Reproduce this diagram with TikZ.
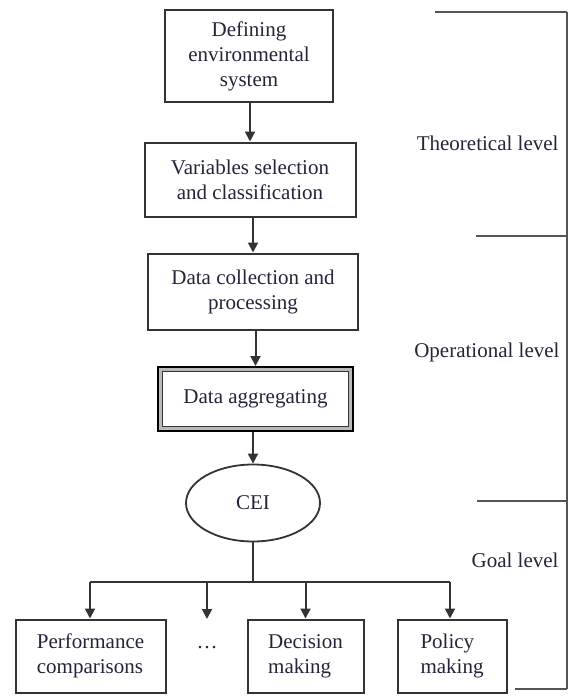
\documentclass[tikz,border=0pt]{standalone}
\usepackage{fontspec}
\setmainfont{Liberation Serif}
\usetikzlibrary{arrows.meta,shapes.geometric,calc}
\definecolor{lncol}{HTML}{333333}
\definecolor{txcol}{HTML}{24243A}
\definecolor{brcol}{HTML}{555555}
\begin{document}
\begin{tikzpicture}[x=1pt,y=-1pt,
  txt/.style={text=txcol,font=\fontsize{21}{25}\selectfont},
  box/.style={txt,draw=lncol,line width=2pt,rectangle,inner sep=0pt,align=center},
  lbox/.style={txt,draw=lncol,line width=2pt,rectangle,inner sep=0pt,align=left},
  arr/.style={draw=lncol,line width=2pt,-{Triangle[length=10pt,width=10pt]}},
  conn/.style={draw=lncol,line width=2pt},
  brk/.style={draw=brcol,line width=2pt}]
\useasboundingbox (0,0) rectangle (568,696);
% main chain
\node[box,minimum width=168pt,minimum height=92pt] (b1) at (249,56) {Defining\\environmental\\system};
\node[box,minimum width=211pt,minimum height=74pt] (b2) at (250,179.5) {Variables selection\\and classification};
\node[box,minimum width=210pt,minimum height=76pt] (b3) at (253,291.5) {Data collection and\\processing};
\node[txt,draw=black,line width=4pt,minimum width=193pt,minimum height=62pt,inner sep=0pt] (b4) at (255.5,399) {Data aggregating};
\draw[gray!55,line width=3pt] ([shift={(3.5,3.5)}]b4.north west) rectangle ([shift={(-3.5,-3.5)}]b4.south east);
\draw[lncol,line width=1.3pt] ([shift={(5.6,5.6)}]b4.north west) rectangle ([shift={(-5.6,-5.6)}]b4.south east);
\node[txt,ellipse,draw=lncol,line width=1.8pt,minimum width=134pt,minimum height=77pt,inner sep=0pt] (cei) at (253,503) {CEI};
% bottom boxes
\node[lbox,minimum width=150pt,minimum height=73pt] (perf) at (90.5,656) {Performance\\comparisons};
\node[txt] (dots) at (207,648) {\ldots};
\node[lbox,minimum width=116pt,minimum height=73pt] (dec) at (305.5,656) {Decision\\making};
\node[lbox,minimum width=109pt,minimum height=73pt] (pol) at (452,656) {Policy\\making};
% connectors
\draw[arr] (b1.south -| b2.north) -- (b2.north);
\draw[arr] (b2.south -| b3.north) -- (b3.north);
\draw[arr] (b3.south -| b4.north) -- (b4.north);
\draw[arr] (b4.south -| cei.north) -- (cei.north);
\coordinate (hub) at (253,582);
\coordinate (hl) at (90,582);
\coordinate (hr) at (450,582);
\coordinate (hd) at (207,582);
\coordinate (dt) at (207,619);
\draw[conn] (cei.south) -- (hub);
\draw[conn] (hl) -- (hr);
\draw[arr] (hl) -- (hl |- perf.north);
\draw[arr] (hd) -- (dt);
\draw[arr] (hub -| dec.north) -- (dec.north);
\draw[arr] (hr) -- (hr |- pol.north);
% level brackets
\coordinate (t0) at (435,12);
\coordinate (t1) at (476,236);
\coordinate (t2) at (477,501);
\coordinate (t3) at (515,689);
\coordinate (vr0) at (566.5,12);
\coordinate (vr1) at (566.5,689);
\draw[brk] (t0) -- (t0 -| vr0);
\draw[brk] (t1) -- (t1 -| vr0);
\draw[brk] (t2) -- (t2 -| vr0);
\draw[brk] (t3) -- (t3 -| vr0);
\draw[brk] (vr0) -- (vr1);
\node[txt,anchor=east] (lt) at (562,143) {Theoretical level};
\node[txt,anchor=east] (lo) at (563,352) {Operational level};
\node[txt,anchor=east] (lg) at (562,560) {Goal level};
\end{tikzpicture}
\end{document}
